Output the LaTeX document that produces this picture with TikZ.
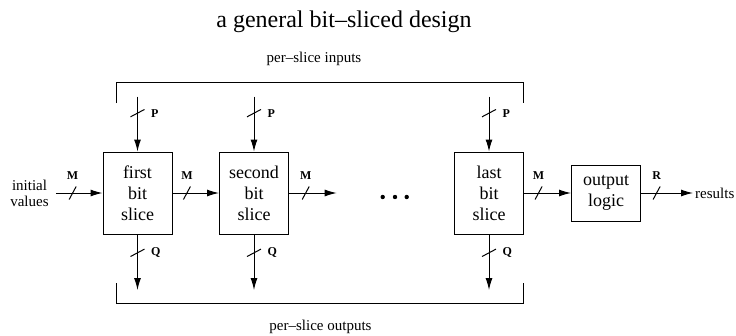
\documentclass[tikz,border=0pt]{standalone}
\usepackage{fontspec}
\setmainfont{Liberation Serif}
\usetikzlibrary{arrows.meta}

\begin{document}
\begin{tikzpicture}[
    x=1pt, y=-1pt,
    slice/.style={rectangle, draw, line width=1pt, minimum width=69pt, minimum height=82pt, align=center, font=\fontsize{18}{21}\selectfont},
    logic/.style={slice, minimum height=56pt},
    lbl/.style={font=\fontsize{15}{16}\selectfont, align=center},
    buslbl/.style={font=\fontsize{12}{12}\selectfont\bfseries, inner sep=0pt},
    arrow/.style={line width=1pt, -{Latex[length=12pt,width=7pt]}},
    hbus/.pic={\draw[-, line width=1pt] (-3.5,6.5) -- (3.5,-6.5); \node[buslbl] at (0,-17) {#1};},
    vbus/.pic={\draw[-, line width=1pt] (-7,3.7) -- (7,-3.7); \node[buslbl, anchor=west] at (13,0) {#1};}
]
\useasboundingbox (0,0) rectangle (736,335);

% Title
\node [font=\fontsize{24}{28}\selectfont] (title) at (344,22) {a general bit--sliced design};

% Slices
\node [slice] (first) at (137.5,193) {first\\bit\\slice};
\node [slice] (second) at (254,193) {second\\bit\\slice};
\node [slice] (last) at (489,193) {last\\bit\\slice};
\node [logic] (outlogic) at (606,193) {output\\logic};

% Outer labels
\node [lbl, inner xsep=7pt] (initial) at (29.5,193) {initial\\values};
\node [lbl, anchor=west, inner xsep=2pt] (results) at (693,193) {results};
\node [lbl] (inlabel) at (314,59) {per--slice inputs};
\node [lbl] (outlabel) at (320.5,327) {per--slice outputs};

% Free ends
\coordinate (in1) at (137.5,96.7);
\coordinate (in2) at (254,96.7);
\coordinate (in3) at (489,96.7);
\coordinate (out1) at (137.5,290);
\coordinate (out2) at (254,290);
\coordinate (out3) at (489,290);
\coordinate (gap) at (336.7,193);

% Brackets
\draw [line width=1pt] (116,103) |- (523,82.7) -- (523,103);
\draw [line width=1pt] (116,283) |- (523,303) -- (523,283);

% Dots
\foreach \dx in {382.7,395,406.7}
  \fill (\dx,197) circle (2.2);

% Horizontal arrows
\draw [arrow] (initial) -- pic[pos=0.36]{hbus=M} (first);
\draw [arrow] (first) -- pic[pos=0.31]{hbus=M} (second);
\draw [arrow] (second) -- pic[pos=0.35]{hbus=M} (gap);
\draw [arrow] (last) -- pic[pos=0.31]{hbus=M} (outlogic);
\draw [arrow] (outlogic) -- pic[pos=0.3]{hbus=R} (results);

% Inputs and outputs
\draw [arrow] (in1) -- pic[pos=0.3]{vbus=P} (first);
\draw [arrow] (in2) -- pic[pos=0.3]{vbus=P} (second);
\draw [arrow] (in3) -- pic[pos=0.3]{vbus=P} (last);
\draw [arrow] (first) -- pic[pos=0.33]{vbus=Q} (out1);
\draw [arrow] (second) -- pic[pos=0.33]{vbus=Q} (out2);
\draw [arrow] (last) -- pic[pos=0.33]{vbus=Q} (out3);

\end{tikzpicture}
\end{document}
